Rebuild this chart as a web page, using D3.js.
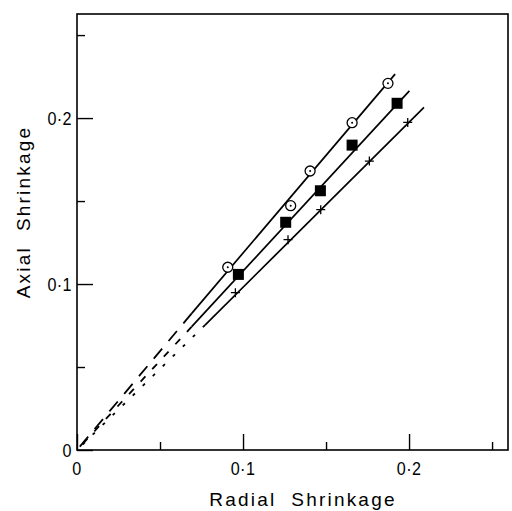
<!DOCTYPE html>
<html><head><meta charset="utf-8">
<script src="https://cdn.jsdelivr.net/npm/d3@7"></script>
<style>html,body{margin:0;padding:0;background:#fff;}</style>
</head><body>
<svg id="c" width="512" height="511"></svg>
<script>
// Data
const circleX = [0.0908, 0.1287, 0.1404, 0.1657, 0.1873];
const circleY = [0.1101, 0.1472, 0.1681, 0.1972, 0.2209];
const squareX = [0.0972, 0.1257, 0.1466, 0.1657, 0.1928];
const squareY = [0.1058, 0.1372, 0.1562, 0.1837, 0.2089];
const crossX  = [0.0954, 0.1271, 0.1468, 0.1761, 0.1992];
const crossY  = [0.0948, 0.1267, 0.1448, 0.1741, 0.1974];
// fitted lines: [origin, solid start, solid end]
const circleLine = [[0, 0], [0.0691, 0.0823], [0.1916, 0.2265]];
const squareLine = [[0, 0], [0.0691, 0.0743], [0.2002, 0.2164]];
const crossLine  = [[0, 0], [0.0771, 0.0753], [0.2090, 0.2064]];
const majorTicks = [0, 0.1, 0.2];
const minorTicks = [0.05, 0.15, 0.25];
const tickLabels = ["0", "0\u00B71", "0\u00B72"];

const svg = d3.select("#c");
const L = 77, R = 508, T = 14, B = 450;
const x = d3.scaleLinear().domain([0, 0.2596]).range([L, R]);
const y = d3.scaleLinear().domain([0, 0.2627]).range([B, T]);
const font = "'Liberation Sans', Arial, sans-serif";

svg.append("rect").attr("x", L).attr("y", T).attr("width", R - L).attr("height", B - T)
  .attr("fill", "none").attr("stroke", "#000").attr("stroke-width", 1.6);

// axes with inward ticks
const gx = svg.append("g").attr("transform", `translate(0,${B})`);
gx.call(d3.axisTop(x).tickValues(majorTicks).tickSize(16).tickFormat(""));
gx.call(g => g.append("g").call(d3.axisTop(x).tickValues(minorTicks).tickSize(8).tickFormat("")));
const gy = svg.append("g").attr("transform", `translate(${L},0)`);
gy.call(d3.axisRight(y).tickValues(majorTicks).tickSize(16).tickFormat(""));
gy.call(g => g.append("g").call(d3.axisRight(y).tickValues(minorTicks).tickSize(8).tickFormat("")));
svg.selectAll(".domain").remove();
svg.selectAll(".tick line").attr("stroke", "#000").attr("stroke-width", 1.4);

svg.append("g").selectAll("text").data(majorTicks).join("text")
  .attr("transform", d => `translate(${x(d)},${B + 25}) scale(0.85,1)`).attr("text-anchor", "middle")
  .attr("font-family", font).attr("font-size", 19).attr("letter-spacing", 0.5)
  .text((d, i) => tickLabels[i]);
svg.append("g").selectAll("text").data(majorTicks).join("text")
  .attr("transform", d => `translate(${L - 5},${y(d) + 7}) scale(0.85,1)`).attr("text-anchor", "end")
  .attr("font-family", font).attr("font-size", 19).attr("letter-spacing", 0.5)
  .text((d, i) => tickLabels[i]);

svg.append("text").attr("x", 303).attr("y", 506).attr("text-anchor", "middle")
  .attr("font-family", font).attr("font-size", 19).attr("letter-spacing", 2.2)
  .style("white-space", "pre").text("Radial  Shrinkage");
svg.append("text").attr("transform", "translate(30,212) rotate(-90)").attr("text-anchor", "middle")
  .attr("font-family", font).attr("font-size", 19).attr("letter-spacing", 2.2)
  .style("white-space", "pre").text("Axial  Shrinkage");

// lines
const lines = [[circleLine, "13,10"], [squareLine, "7,10"], [crossLine, "3,11"]];
lines.forEach(([ln, dash]) => {
  svg.append("line").attr("x1", x(ln[1][0])).attr("y1", y(ln[1][1]))
    .attr("x2", x(ln[0][0])).attr("y2", y(ln[0][1]))
    .attr("stroke", "#000").attr("stroke-width", 1.8).attr("stroke-dasharray", dash);
  svg.append("line").attr("x1", x(ln[1][0])).attr("y1", y(ln[1][1]))
    .attr("x2", x(ln[2][0])).attr("y2", y(ln[2][1]))
    .attr("stroke", "#000").attr("stroke-width", 1.7);
});

// markers
const circ = d3.zip(circleX, circleY);
const sq = d3.zip(squareX, squareY);
const cr = d3.zip(crossX, crossY);
svg.append("g").selectAll("circle").data(circ).join("circle")
  .attr("cx", d => x(d[0])).attr("cy", d => y(d[1])).attr("r", 5)
  .attr("fill", "#fff").attr("stroke", "#000").attr("stroke-width", 1.3);
svg.append("g").selectAll("circle").data(circ).join("circle")
  .attr("cx", d => x(d[0])).attr("cy", d => y(d[1])).attr("r", 1).attr("fill", "#000");
svg.append("g").selectAll("rect").data(sq).join("rect")
  .attr("x", d => x(d[0]) - 5.5).attr("y", d => y(d[1]) - 5.5)
  .attr("width", 11).attr("height", 11).attr("fill", "#000");
svg.append("g").selectAll("path").data(cr).join("path")
  .attr("d", d => `M${x(d[0]) - 4.5},${y(d[1])}h9M${x(d[0])},${y(d[1]) - 4.5}v9`)
  .attr("stroke", "#000").attr("stroke-width", 1.3);
</script>
</body></html>
